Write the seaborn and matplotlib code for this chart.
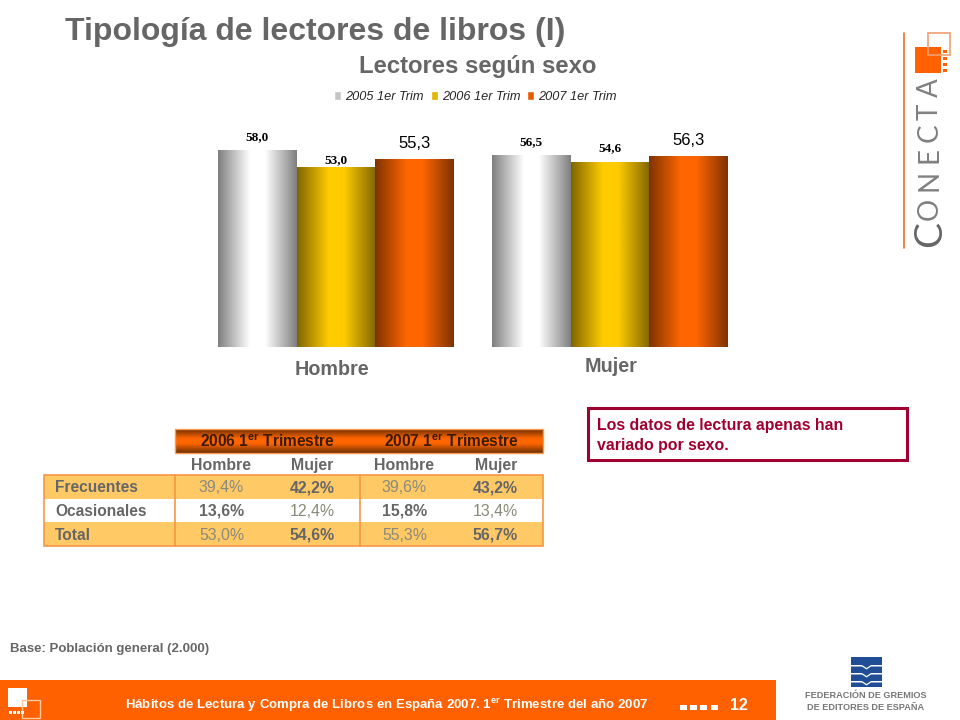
import matplotlib
matplotlib.use("Agg")
import matplotlib.pyplot as plt
import numpy as np
import pandas as pd
import seaborn as sns
from matplotlib.colors import LinearSegmentedColormap
from matplotlib.patches import Rectangle, Polygon
from matplotlib.transforms import ScaledTranslation

# chart data
sexes = ["Hombre", "Mujer"]
periods = ["2005 1er Trim", "2006 1er Trim", "2007 1er Trim"]
values_2005 = [58.0, 56.5]
values_2006 = [53.0, 54.6]
values_2007 = [55.3, 56.3]

# table data
table_groups = ["2006", "2007"]
table_columns = ["Hombre", "Mujer", "Hombre", "Mujer"]
table_rows = ["Frecuentes", "Ocasionales", "Total"]
frecuentes = ["39,4%", "42,2%", "39,6%", "43,2%"]
ocasionales = ["13,6%", "12,4%", "15,8%", "13,4%"]
total = ["53,0%", "54,6%", "55,3%", "56,7%"]

ORANGE = "#ff6000"
GREY = "#666666"
bright = ["#ffffff", "#ffcc00", "#ff6600"]
dark = ["#808080", "#806600", "#803300"]
swatch = ["#c4c4c4", "#e0b400", "#e85c00"]

plt.rcParams["mathtext.fontset"] = "custom"
plt.rcParams["mathtext.rm"] = "Liberation Sans"
plt.rcParams["mathtext.bf"] = "Liberation Sans:bold"
plt.rcParams["font.family"] = "Liberation Sans"

sns.set_style("white", {"font.family": "Liberation Sans"})
fig = plt.figure(figsize=(9.6, 7.2), dpi=100)

# page layer in pixel coordinates
page = fig.add_axes([0, 0, 1, 1])
page.set_xlim(0, 960)
page.set_ylim(720, 0)
page.axis("off")

# bars
df = pd.DataFrame({
    "sexo": sexes * 3,
    "periodo": np.repeat(periods, 2),
    "valor": values_2005 + values_2006 + values_2007,
})
ax = fig.add_axes([199 / 960, (720 - 347) / 720, 548 / 960, 237.8 / 720])
ax.patch.set_alpha(0)
sns.barplot(df, x="sexo", y="valor", hue="periodo", order=sexes, hue_order=periods,
            palette=swatch, width=0.861, gap=0, saturation=1, errorbar=None, ax=ax)
sns.despine(ax=ax, left=True, bottom=True)
ax.set_yticks([])
ax.set_xlabel("")
ax.set_ylabel("")

# cylinder shading on each bar
for i, container in enumerate(ax.containers):
    cmap = LinearSegmentedColormap.from_list(
        f"bar{i}", [(0, dark[i]), (0.4, bright[i]), (0.6, bright[i]), (1, dark[i])])
    for bar in container:
        x0, w, h = bar.get_x(), bar.get_width(), bar.get_height()
        ax.imshow(np.linspace(0, 1, 128)[None, :], cmap=cmap, aspect="auto",
                  extent=(x0, x0 + w, 0, h), zorder=3, clip_path=bar)
ax.set_xlim(-0.5, 1.5)
ax.set_ylim(0, 70.2)

# data labels
label_style = [
    dict(fontfamily="Liberation Serif", fontweight="bold", fontsize=9.5),
    dict(fontfamily="Liberation Serif", fontweight="bold", fontsize=9.5),
    dict(fontfamily="Liberation Sans", fontsize=12),
]
label_pad = [[5.5, 5.5], [1, 5.5], [6, 6]]
for i, container in enumerate(ax.containers):
    for bar, pad in zip(container, label_pad[i]):
        ax.annotate(f"{bar.get_height():.1f}".replace(".", ","),
                    (bar.get_x() + bar.get_width() / 2, bar.get_height()),
                    xytext=(0, pad), textcoords="offset points", ha="center", va="bottom",
                    color="black", zorder=5, **label_style[i])

# axis labels
ax.tick_params(axis="x", length=0, pad=8)
offsets = [(-4, -2), (1, 1)]
for tick, (dx, dy) in zip(ax.get_xticklabels(), offsets):
    tick.set_fontsize(14.2)
    tick.set_fontweight("bold")
    tick.set_color(GREY)
    tick.set_transform(tick.get_transform() + ScaledTranslation(dx / 100, dy / 100, fig.dpi_scale_trans))

# legend
handles, labels = ax.get_legend_handles_labels()
ax.legend(handles, labels, loc="center", bbox_to_anchor=(475.5 / 960, (720 - 97) / 720),
          bbox_transform=fig.transFigure, ncol=3, frameon=False, handlelength=0.55, handleheight=0.6,
          handletextpad=0.3, columnspacing=0.55, prop=dict(family="Liberation Sans", style="italic", size=9.2))

# titles
page.text(65, 32, "Tipología de lectores de libros (I)", fontsize=23, fontweight="bold",
          color=GREY, va="center", ha="left")
page.text(477.5, 66, "Lectores según sexo", fontsize=17.2, fontweight="bold",
          color=GREY, va="center", ha="center")

# table header
header_grad = LinearSegmentedColormap.from_list("head", [(0, "#703000"), (0.4, "#ff6600"), (0.6, "#ff6600"), (1, "#703000")])
page.imshow(np.linspace(0, 1, 64)[:, None], cmap=header_grad, aspect="auto", extent=(175, 543, 453, 429), zorder=1)
page.set_xlim(0, 960)
page.set_ylim(720, 0)
page.add_patch(Rectangle((175, 429), 368, 24, fill=False, ec="#ff9a50", lw=1, zorder=2))
for x, group in zip([267, 451], table_groups):
    page.text(x, 441, rf"{group} 1$^{{\mathbf{{er}}}}$ Trimestre", fontsize=11.2, fontweight="bold",
              color="#3a1a00", ha="center", va="center", zorder=3)

col_center = [221, 312, 404, 496]
col_right = [244, 335, 427, 518]
for x, name in zip(col_center, table_columns):
    page.text(x, 464, name, fontsize=11.4, fontweight="bold", color=GREY, ha="center", va="center_baseline")

# table body
row_top = [475, 498.5, 522]
row_fill = ["#ffc966", "#ffffff", "#ffc966"]
row_values = [frecuentes, ocasionales, total]
row_bold = [[1, 3], [0, 2], [1, 3]]
for top, fill in zip(row_top, row_fill):
    page.add_patch(Rectangle((44, top), 499, 23.5, fc=fill, ec="none", zorder=1))
page.add_patch(Rectangle((44, 475), 499, 70.5, fill=False, ec="#f79646", lw=1.2, zorder=2))
for x in [175, 359.5]:
    page.plot([x, x], [475, 545.5], color="#f79646", lw=1.2, zorder=2)
for top, name, vals, bold in zip(row_top, table_rows, row_values, row_bold):
    y = top + 11.5
    page.text(55, y, name, fontsize=11.2, fontweight="bold", color=GREY, va="center_baseline", zorder=3)
    for j, val in enumerate(vals):
        page.text(col_right[j], y, val, fontsize=11.4, ha="right", va="center_baseline", zorder=3,
                  fontweight="bold" if j in bold else "normal",
                  color=GREY if j in bold else "#8a8a7a")

# callout
page.add_patch(Rectangle((588, 408), 318.5, 51.5, fc="white", ec="#a00030", lw=2.2))
page.text(597, 424, "Los datos de lectura apenas han", fontsize=11.4, fontweight="bold", color="#a00030", va="center_baseline")
page.text(597, 444, "variado por sexo.", fontsize=11.4, fontweight="bold", color="#a00030", va="center_baseline")

# base note and footer
page.text(10, 649, "Base: Población general (2.000)", fontsize=9.5, fontweight="bold", color=GREY, va="center")
page.add_patch(Rectangle((0, 680), 776, 40, fc=ORANGE, ec="none"))
page.text(125, 705, r"Hábitos de Lectura y Compra de Libros en España 2007. 1$^{\mathbf{er}}$ Trimestre del año 2007",
          fontsize=9.5, fontweight="bold", color="white", va="center", zorder=3)
page.text(739, 705, "12", fontsize=11.5, fontweight="bold", color="white", ha="center", va="center", zorder=3)
for x in [680, 690, 700, 711]:
    page.add_patch(Rectangle((x, 705), 7, 5, fc="white", ec="none", zorder=3))
page.add_patch(Rectangle((8, 688), 19, 19, fc="white", ec="none", zorder=3))
page.add_patch(Rectangle((22, 700), 18, 18, fill=False, ec="#ffc9a0", lw=1, zorder=3))
for x in [9, 13, 17, 21]:
    page.add_patch(Rectangle((x, 711), 2.5, 3, fc="white", ec="none", zorder=3))

# Conecta logo
page.plot([904, 904], [33, 248], color="#f07020", lw=1.2)
page.add_patch(Rectangle((915, 47), 26, 26, fc=ORANGE, ec="none"))
page.add_patch(Rectangle((928, 33), 22, 22, fill=False, ec="#f0a070", lw=1.2))
for y in [50, 57, 63, 69]:
    page.add_patch(Rectangle((943, y), 4, 3, fc=ORANGE, ec="none"))
for y, letter in zip([88, 112, 133, 155, 180, 209], "ATCENO"):
    page.text(930, y, letter, fontfamily="Lato", fontsize=20, color="#808080",
              rotation=90, ha="center", va="center")
page.text(930, 234, "C", fontfamily="Lato", fontsize=28, color="#666666", rotation=90, ha="center", va="center")

# federation logo
page.add_patch(Rectangle((851, 657), 31, 30, fc="#1f4e96", ec="none"))
for y in [665, 673, 681]:
    page.add_patch(Polygon([(851, y), (862, y), (866.5, y + 3), (871, y), (882, y), (882, y + 1.5),
                            (871, y + 1.5), (866.5, y + 4.5), (862, y + 1.5), (851, y + 1.5)], fc="white", ec="none"))
page.text(866, 696, "FEDERACIÓN DE GREMIOS", fontsize=6.6, fontweight="bold", color="#777777", ha="center", va="center")
page.text(866, 708, "DE EDITORES DE ESPAÑA", fontsize=6.6, fontweight="bold", color="#777777", ha="center", va="center")

fig.savefig("out.png", dpi=100)
